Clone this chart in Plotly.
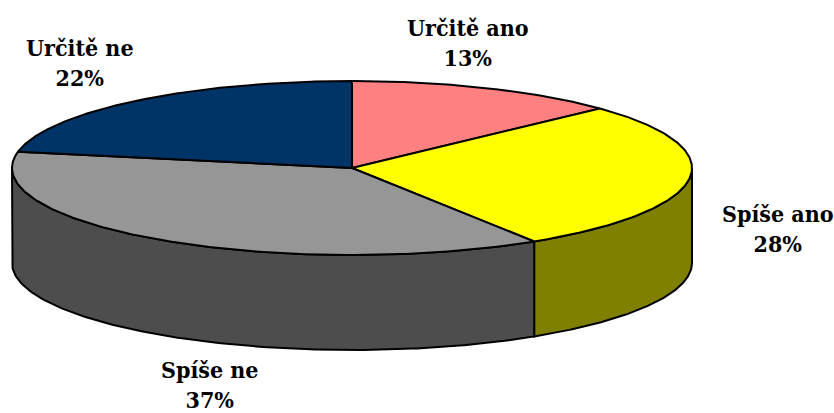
import numpy as np
import plotly.graph_objects as go

# Data
categories = ["Určitě ano", "Spíše ano", "Spíše ne", "Určitě ne"]
shares = [13, 28, 37, 22]
top_colors = ["#FF8080", "#FFFF00", "#969696", "#003366"]
side_colors = ["#804040", "#808000", "#4D4D4D", "#001A33"]

# pie geometry (pixel space of the 834x413 page)
CX, CY, RX, RY, DEPTH = 352, 168, 340, 87, 95
label_pos = [(468, 42), (778, 228), (210, 384), (80, 62)]
W, H = 834, 413


def rim(a0, a1, drop=0.0, n=150):
    t = np.radians(np.linspace(a0, a1, n))
    return CX + RX * np.sin(t), CY - RY * np.cos(t) + drop


bounds = np.concatenate([[0], np.cumsum(shares)]) / sum(shares) * 360

fig = go.Figure()

# side walls, only the front half (90..270 deg) is visible
for i in range(len(shares)):
    a0, a1 = max(bounds[i], 90), min(bounds[i + 1], 270)
    if a1 <= a0:
        continue
    xt, yt = rim(a0, a1)
    xb, yb = rim(a0, a1, DEPTH)
    fig.add_trace(go.Scatter(
        x=np.concatenate([xt, xb[::-1], xt[:1]]),
        y=np.concatenate([yt, yb[::-1], yt[:1]]),
        mode="lines", fill="toself", fillcolor=side_colors[i],
        line=dict(color="black", width=2), hoverinfo="skip"))

# top faces
for i in range(len(shares)):
    xa, ya = rim(bounds[i], bounds[i + 1])
    fig.add_trace(go.Scatter(
        x=np.concatenate([[CX], xa, [CX]]),
        y=np.concatenate([[CY], ya, [CY]]),
        mode="lines", fill="toself", fillcolor=top_colors[i],
        line=dict(color="black", width=2), hoverinfo="skip",
        name=categories[i]))

for cat, val, (lx, ly) in zip(categories, shares, label_pos):
    fig.add_annotation(
        x=lx, y=ly, text=f"<b>{cat}<br>{val}%</b>", showarrow=False,
        xanchor="center", yanchor="middle",
        font=dict(family="DejaVu Serif Condensed, DejaVu Serif", size=23, color="black"))

fig.update_layout(
    width=W, height=H,
    margin=dict(l=0, r=0, t=0, b=0),
    paper_bgcolor="white", plot_bgcolor="white",
    showlegend=False,
    xaxis=dict(range=[0, W], visible=False, fixedrange=True),
    yaxis=dict(range=[H, 0], visible=False, fixedrange=True),
)

# drop the default 8px body margin so the figure fills the window
fig.write_html("out.html", config={"displayModeBar": False},
               post_script="document.body.style.margin='0';document.body.style.overflow='hidden';")
